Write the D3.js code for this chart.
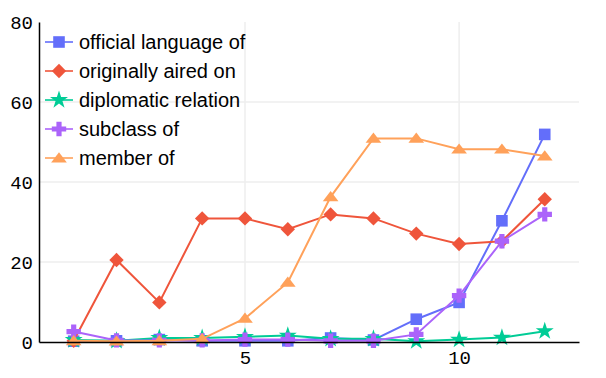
<!DOCTYPE html>
<html><head><meta charset="utf-8">
<script src="https://cdn.jsdelivr.net/npm/d3@7"></script>
<style>body{margin:0;background:#fff}svg{display:block}</style>
</head><body><svg id="c" width="606" height="378"></svg>
<script>
const xValues = [1,2,3,4,5,6,7,8,9,10,11,12];
const seriesNames = ["official language of","originally aired on","diplomatic relation","subclass of","member of"];
const officialLanguage = [0.2,0.3,0.6,0.3,0.3,0.3,1.0,0.5,5.7,9.9,30.3,51.9];
const originallyAired = [0.3,20.5,9.9,30.9,30.9,28.2,31.9,30.9,27.1,24.5,25.2,35.7];
const diplomaticRelation = [0.5,0.3,1.0,1.0,1.3,1.6,0.8,0.8,0.2,0.6,1.1,2.7];
const subclassOf = [2.6,0.4,0.4,0.4,0.6,0.6,0.3,0.3,1.9,11.6,25.2,31.9];
const memberOf = [0.3,0.2,0.3,0.8,5.9,14.9,36.3,50.9,50.9,48.2,48.2,46.5];
const yTicks = [0,20,40,60,80];
const xTicks = [5,10];

const colors = ["#636efa","#EF553B","#00cc96","#ab63fa","#FFA15A"];
// plotly-like marker shapes
const shape = {
  square: (r) => `M${r},${r}H${-r}V${-r}H${r}Z`,
  diamond: (r) => `M${r},0L0,${r}L${-r},0L0,${-r}Z`,
  star: (r) => d3.symbol().type(d3.symbolStar).size(r * r * 3.2)(),
  cross: (r) => { const a = r * 0.36, b = r; return `M${b},${a}H${a}V${b}H${-a}V${a}H${-b}V${-a}H${-a}V${-b}H${a}V${-a}H${b}Z`; },
  triangle: (r) => { const rt = r * 2 / Math.sqrt(3), r2 = r / 2; return `M${-rt},${r2 + 1}H${rt}L0,${-r + 1}Z`; }
};
const markerPaths = [shape.square(5.8), shape.diamond(7.2), shape.star(5.6), shape.cross(7.2), shape.triangle(6.8)];
const allSeries = [officialLanguage, originallyAired, diplomaticRelation, subclassOf, memberOf];

const svg = d3.select("#c");
const L = 39, R = 579, T = 22, B = 342;
const x = d3.scaleLinear().domain([0.19, 12.8]).range([L, R]);
const y = d3.scaleLinear().domain([0, 80]).range([B, T]);

// grid
svg.append("g").selectAll("line").data(yTicks.filter(d => d > 0 && d < 80)).join("line")
  .attr("x1", L).attr("x2", R).attr("y1", d => y(d)).attr("y2", d => y(d))
  .attr("stroke", "#eeeeee").attr("stroke-width", 1.5);
svg.append("g").selectAll("line").data(xTicks).join("line")
  .attr("x1", d => x(d)).attr("x2", d => x(d)).attr("y1", T).attr("y2", B)
  .attr("stroke", "#eeeeee").attr("stroke-width", 1.5);

// series
const line = d3.line().x((d, i) => x(xValues[i])).y(d => y(d));
allSeries.forEach((s, k) => {
  const g = svg.append("g");
  g.append("path").attr("d", line(s)).attr("fill", "none")
    .attr("stroke", colors[k]).attr("stroke-width", 2);
  g.selectAll("path.m").data(s).join("path").attr("class", "m")
    .attr("transform", (d, i) => `translate(${x(xValues[i])},${y(d)})`)
    .attr("d", markerPaths[k])
    .attr("fill", colors[k]);
});

// axes
const yAxis = d3.axisLeft(y).tickValues(yTicks).tickSize(0).tickPadding(6);
const yg = svg.append("g").attr("transform", `translate(${L},0)`).call(yAxis);
yg.select(".domain").attr("stroke", "#000").attr("stroke-width", 1.5);
yg.selectAll("text").attr("font-family", "Liberation Mono, monospace").attr("font-size", 19).attr("fill", "#000");
const xAxis = d3.axisBottom(x).tickValues(xTicks).tickSize(0).tickPadding(9);
const xg = svg.append("g").attr("transform", `translate(0,${B})`).call(xAxis);
xg.select(".domain").attr("stroke", "#000").attr("stroke-width", 1.5);
xg.selectAll("text").attr("font-family", "Liberation Mono, monospace").attr("font-size", 19).attr("fill", "#000");

// legend
const lg = svg.append("g");
seriesNames.forEach((name, k) => {
  const cy = 42 + k * 29;
  lg.append("line").attr("x1", 45).attr("x2", 73).attr("y1", cy).attr("y2", cy)
    .attr("stroke", colors[k]).attr("stroke-width", 2).attr("stroke-opacity", 0.8);
  lg.append("path").attr("transform", `translate(59,${cy})`)
    .attr("d", markerPaths[k]).attr("fill", colors[k]);
  lg.append("text").attr("x", 79).attr("y", cy).attr("dy", "0.35em")
    .attr("font-family", "Liberation Sans, Arial, sans-serif").attr("font-size", 20)
    .attr("fill", "#000").text(name);
});
</script></body></html>
